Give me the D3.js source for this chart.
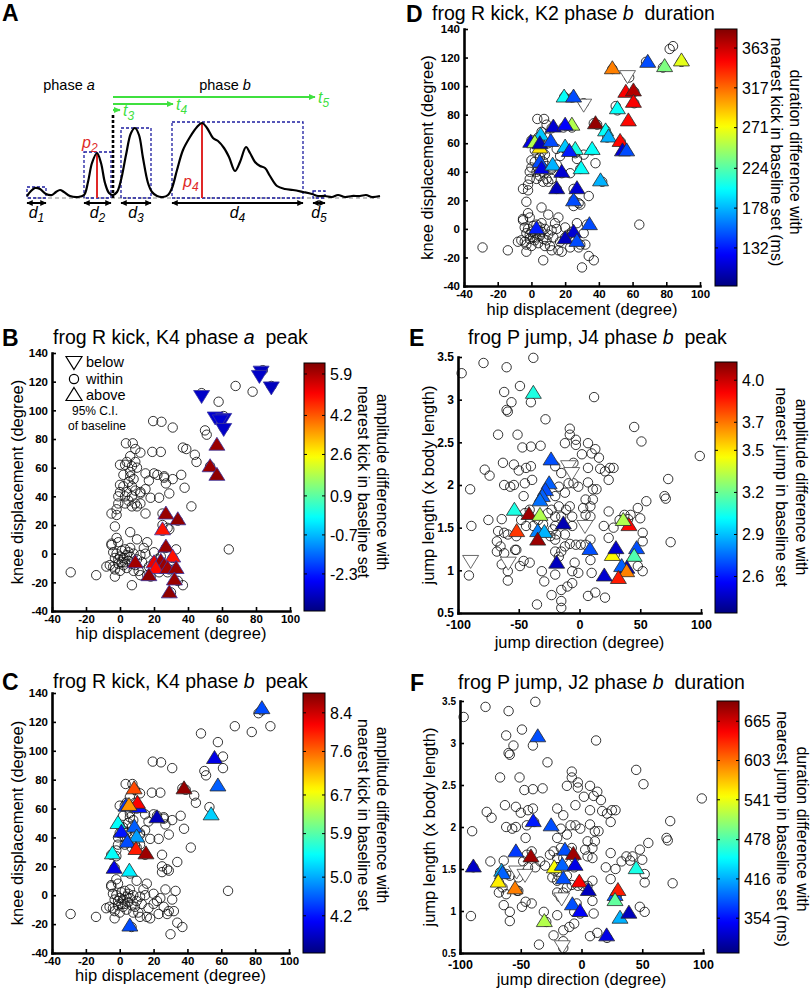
<!DOCTYPE html>
<html>
<head>
<meta charset="utf-8">
<script src="https://cdn.jsdelivr.net/npm/d3@7"></script>
<style>
body { margin: 0; background: #fff; }
svg { display: block; font-family: "Liberation Sans", Arial, sans-serif; }
</style>
</head>
<body>
<svg id="fig" width="810" height="988"></svg>
<script>
// ---- data ----
// schematic trace for panel A (time, amplitude in arbitrary units)
const traceA = [[0,2],[4,7],[8,10],[13,9],[19,4],[25,3],[29,6],[33,8],[37,6],[43,2],[51,1],[57,3],[61,16],[65,35],[70,45],[74,35],[78,15],[82,5],[86,3],[90,6],[94,18],[99,43],[104,65],[108,70],[112,63],[116,40],[121,15],[125,6],[130,2],[136,1],[141,3],[145,10],[150,28],[156,48],[163,61],[170,71],[175,75],[180,70],[186,60],[191,57],[197,50],[202,41],[208,27],[213,36],[219,51],[223,45],[228,36],[233,32],[238,30],[243,22],[250,12],[258,9],[266,8],[276,6],[285,4],[291,2],[298,2],[305,1],[311,3],[318,1],[325,2],[333,2],[339,3],[345,1],[353,2]];
// burst windows: start, end, top, index
const burstsA = [[0,19,11,'1'],[57,84,46,'2'],[94,124,70,'3'],[145,276,76,'4'],[286,298,7,'5']];
const peaksA = [[70,45,'2'],[175,75,'4']];
const onsetA = 86;
const latenciesA = [[93,88,'3'],[146,94,'4'],[288,101,'5']];

// all kicks: hip displacement, knee displacement (degree)
const kickTrials = [[68,117],[78,113],[89,117],[82,126],[84,128],[48,112],[58,106],[61,96],[61,88],[50,86],[51,83],[53,61],[44,69],[45,64],[37,74],[39,73],
[19.5,92.5],[24.4,92],[31,88],[19,71],[24,71],[31,52],[26,53],[27,49],[38,46],[36,55],[42,33],[29,42],[23,39],[18,39],[15,45],[17,51],[15,56],[20,56],[22,55],[12,35],[12,42],[15,28],[25,28],[28,18],[25,20],[34,23],[25,16],[29,17],[26,54],
[3.5,77],[7.5,77],[9,73],[12,70.5],[6,68],[4,64],[9,64],[0,62],[3,62],[7,61],[6,57],[10,60],[6,54],[0,48],[2,47],[7,47],[9,44],[4,43],[0,43],[-1,40],[3,40],[7,40],[12,43],[-1,35],[3,35],[9,35],[-5,28],[-2,27],[7,33],[10,33],[6,15],[-3,19],[-2,11],[-5,7],[-1,8],[5,50],[2,55],[8,52],[-2,31],[5,37],
[-2,0],[0,-2],[2,-3],[4,-1],[1,2],[3,3],[-1,-4],[5,-5],[6,-2],[8,0],[3,-6],[-3,-3],[7,-7],[10,-4],[2,-8],[-4,-9],[-6,-8],[-3,-11],[-3,-16],[0,-12],[4,-10],[9,-8],[11,-12],[13,-6],[12,-1],[14,4],[16,8],[10,10],[6,4],[-5,6],[-4,1],[-8,-9],[-14,-15],[-29,-13],[7,-22],[16,-15],[18,-16],[17,-9],[20,-6],[24,-2],[27,4],[31,-3],[33,3],[32,-11],[29,-11],[34,-19],[37,-22],[30,-27],[22,-4],[26,-8],[28,-13],[23,-13],[20,1],[64,3],[15,0],[12,-15],[1,-6],[5,1],[-1,-7],[8,-12]];

// all jumps: jump direction (degree), jump length (x body length)
const jumpTrials = [[-97,3.31],[-79,3.43],[-60,3.38],[-38,3.49],[-49,3.16],[-62,3.09],[-56,2.97],[-60,2.88],[-59,2.86],[-40,2.97],[-28,2.77],[12,3.03],[45,2.68],[51,2.51],[99,2.34],[-67,2.59],[-51,2.59],[-47,2.44],[-40,2.45],[-32,2.46],[-63,2.26],[-54,2.24],[-50,2.17],[-44,2.2],[-40,2.22],[-78,2.18],[-74,2.11],[-62,2.0],[-57,1.98],[-54,2.0],[-45,2.02],[-39,2.06],[-90,1.95],[-75,1.59],[-89,1.52],[-64,1.6],[-67,1.46],[-62,1.44],[-59,1.42],[-68,1.34],[-65,1.28],[-68,1.22],[-62,1.2],[-64,1.07],[-59,0.99],[-59,0.88],[-91,0.94],[-53,1.24],[-41,1.09],[-31,0.99],[-29,0.87],[-20,0.95],[-23,0.71],[-35,0.6],[-15,0.64],[-15,0.56],[-6,0.85],[-10,0.81],[-15,0.77],[7,0.7],[13,0.74],[21,0.68],[10,0.97],[-1,0.97],[-6,0.99],[-4,1.09],[-17,1.16],[-20,1.22],[-15,1.22],[-12,1.28],[-8,1.31],[-3,1.3],[1,1.3],[5,1.3],[9,1.36],[9,1.12],[24,1.38],[20,1.52],[24,1.69],[28,1.5],[33,1.59],[37,1.65],[40,1.6],[42,1.65],[52,1.44],[52,1.34],[50,1.61],[48,1.73],[55,1.81],[70,1.87],[71,1.84],[73,2.07],[75,1.33],[52,0.99],[48,1.05],[29,1.18],
[7,2.2],[7,2.49],[10,2.37],[16,2.32],[13,2.42],[-8,2.66],[-8,2.59],[-3,2.53],[2,2.36],[-5,2.26],[-3,2.47],[-12,2.49],[-20,2.22],[-15,2.14],[-17,1.98],[-9,2.02],[-12,1.91],[-5,2.02],[-1,1.98],[-8,1.75],[-6,1.63],[3,1.73],[9,1.75],[5,1.83],[11,1.95],[14,1.95],[11,1.83],[5,1.65],[9,1.63],[25,2.2],[28,2.2],[21,2.16],[17,2.19],[7,2.03],[24,2.06],[-15,1.63],[-17,1.75],[-20,1.63],[-11,1.71],[-6,1.52],[-20,1.52],[-24,1.4],[-19,1.42],[-12,1.42],[-20,1.36],[-22,1.48],[-34,1.59],[-30,1.54],[-26,1.67],[-23,1.71],[-46,1.87],[-45,1.67],[-41,1.71],[-38,1.52],[-44,1.52],[-48,1.59],[-52,1.4],[-52,1.24],[-46,1.11],[-49,1.05],[-20,1.87]];

// outliers: x, y, colour value (null = white), 1 above / -1 below
const kickK4PeakA = [[83,127,-3.2,-1],[82,124,-3.1,-1],[89,116,-3.2,-1],[48,110,-3.1,-1],[56,95,-3.0,-1],[61,94,-3.1,-1],[59,93,-3.0,-1],[61,87,-3.1,-1],
[57,76,6.1,1],[53,61,6.1,1],[57,55,6.2,1],[27,28,6.1,1],[34,24,6.2,1],[25,17,4.9,1],[27,5,6.1,1],[9,-6,6.0,1],[20,-6,5.3,1],[24,-5,6.1,1],[31,-2,4.9,1],[26,-8,6.1,1],[21,-10,5.0,1],[28,-10,6.0,1],[33,-10,6.1,1],[17,-15,6.2,1],[32,-18,6.1,1],[29,-27,6.2,1]];
const kickK4PeakB = [[84,129.5,4.5,1],[56,95,3.97,1],[58,76,4.6,1],[54,56,5.2,1],[38,74,8.7,1],[3.7,62,4.4,1],[11.6,61,4.2,1],[10.5,64,8.16,1],[8.5,74,7.75,1],[5.5,62.5,7.36,1],[22,54,3.75,1],[-1,50,5.47,1],[1,44,4.2,1],[8.7,47.5,4.6,1],[10,40.6,4.94,1],[4.5,37,4.5,1],[9.6,32,8.0,1],[15.5,29,8.65,1],[-4.3,29,5.47,1],[-3.3,19,3.97,1],[5.7,17,5.37,1],[6,-21,4.5,1]];
const kickK2DurationB = [[57,107,null,-1],[31,87,null,-1],[69,117,147,1],[79,114,236,1],[89,118,266,1],[48,112.5,311,1],[56,96,349,1],[60.5,97,370,1],[60.5,89,349,1],[51,84.5,201,1],[57.5,76,346,1],[38,74,379,1],[19.4,92.7,201,1],[25,92.7,147,1],[24,73,251,1],[13,71.7,112,1],[20,73,124,1],[5.5,66,183,1],[-0.4,61,118,1],[2,60.7,251,1],[5,57,281,1],[5,60,103,1],[11.5,61.6,147,1],[44,69,201,1],[45.7,64.7,177,1],[52.6,61.6,346,1],[54,55,112,1],[56.5,55,147,1],[20,57.7,183,1],[26,56,207,1],[22.5,54.6,133,1],[36,56,201,1],[5,47,147,1],[6,42.5,118,1],[12.6,45,177,1],[18,40,112,1],[29.5,42.5,201,1],[41,34,177,1],[15,28.5,106,1],[27,28.5,112,1],[25,20,147,1],[3,0.5,133,1],[34.4,3.3,147,1],[25,-2,112,1],[20,-6.5,106,1],[27,-8.4,147,1]];
const jumpJ4PeakB = [[4.5,1.52,null,-1],[-9,2.22,null,-1],[-6.4,2.14,null,-1],[-89.6,1.11,null,-1],[-58.6,1.09,null,-1],[-38,3.08,3.06,1],[-23.4,2.3,2.70,1],[-25,2.02,2.73,1],[-28,1.94,2.70,1],[-30.6,1.87,2.73,1],[-32.5,1.82,2.76,1],[-53.6,1.71,3.06,1],[-41.6,1.66,4.08,1],[-32.5,1.65,3.32,1],[-51.7,1.46,3.81,1],[-34.4,1.46,2.79,1],[-28.9,1.45,2.88,1],[-34.4,1.36,4.08,1],[-13.3,1.55,2.43,1],[-18.8,1.09,2.45,1],[8.6,1.25,2.70,1],[27,1.18,3.47,1],[30,1.26,2.47,1],[47,1.26,2.70,1],[45,1.17,3.15,1],[40.7,1.53,3.90,1],[36,1.59,3.32,1],[39,1.03,2.45,1],[34.7,1.05,2.73,1],[38.8,0.99,3.68,1],[32,0.91,3.86,1],[20.4,0.94,2.48,1]];
const jumpJ2DurationB = [[-15.8,0.58,null,-1],[-53.4,1.47,null,-1],[-46.5,1.43,null,-1],[-16.3,1.15,null,-1],[-36,3.08,379,1],[-39.7,2.07,359,1],[-25,2.02,379,1],[-89,1.53,327,1],[-54,1.71,371,1],[-41.6,1.65,685,1],[-13.6,1.73,379,1],[-6.7,1.68,685,1],[-22.4,1.52,546,1],[-15.8,1.55,387,1],[-5.3,1.55,339,1],[-65.7,1.48,418,1],[-65,1.45,387,1],[-68.5,1.35,554,1],[-54.7,1.27,598,1],[-15,1.39,379,1],[-1.8,1.35,649,1],[5.6,1.25,323,1],[45,1.51,458,1],[27.6,1.19,379,1],[30,1.25,637,1],[27.6,1.13,486,1],[-7.5,1.08,379,1],[-1.2,1.0,347,1],[31.7,0.92,418,1],[39,0.98,323,1],[-30.6,0.88,518,1],[20.7,0.71,339,1]];

// colour bar ranges and tick labels
const cbDomainB = [-3.82, 6.35], cbTicksB = [-2.3, -0.7, 0.9, 2.6, 4.2, 5.9];
const cbDomainC = [3.43, 8.81],  cbTicksC = [4.2, 5.0, 5.9, 6.7, 7.6, 8.4];
const cbDomainD = [88, 385],     cbTicksD = [132, 178, 224, 271, 317, 363];
const cbDomainE = [2.34, 4.13],  cbTicksE = [2.6, 2.9, 3.2, 3.5, 3.7, 4.0];
const cbDomainF = [299, 697],    cbTicksF = [354, 416, 478, 541, 603, 665];

const kickXTicks = d3.range(-40, 101, 20), kickYTicks = d3.range(-40, 141, 20);
const jumpXTicks = [-100, -50, 0, 50, 100], jumpYTicks = [0.5, 1, 1.5, 2, 2.5, 3, 3.5];

// ---- drawing ----
const fig = d3.select('#fig');
const defs = fig.append('defs');

function jet(t) {
  t = Math.max(0, Math.min(1, t));
  const c = v => Math.round(255 * Math.max(0, Math.min(1, v)));
  return `rgb(${c(1.5 - Math.abs(4*t - 3))},${c(1.5 - Math.abs(4*t - 2))},${c(1.5 - Math.abs(4*t - 1))})`;
}

const grad = defs.append('linearGradient').attr('id', 'jet')
  .attr('x1', 0).attr('y1', 1).attr('x2', 0).attr('y2', 0);
d3.range(0, 1.0001, 0.02).forEach(t => grad.append('stop').attr('offset', t).attr('stop-color', jet(t)));

function addMarker(id, color) {
  defs.append('marker').attr('id', id).attr('viewBox', '0 0 10 10')
    .attr('refX', 9).attr('refY', 5).attr('markerWidth', 3.2).attr('markerHeight', 3.2)
    .attr('orient', 'auto-start-reverse')
    .append('path').attr('d', 'M0,0.5 L10,5 L0,9.5 z').attr('fill', color);
}
addMarker('arrK', '#000');
addMarker('arrG', '#3fe03f');

const triUp = 'M0,-7.5 L8,5.5 L-8,5.5 Z';
const triDown = 'M0,7.5 L8,-5.5 L-8,-5.5 Z';

function richText(g, x, y, parts) {
  const t = g.append('text').attr('x', x).attr('y', y).style('white-space', 'pre');
  parts.forEach(([s, it]) => t.append('tspan').text(s).attr('font-style', it ? 'italic' : null));
  return t;
}

function styleAxis(sel, fs) {
  sel.attr('font-family', null).attr('font-size', null);
  sel.select('.domain').attr('stroke', '#000').attr('stroke-width', 2.6).attr('stroke-linecap', 'square');
  sel.selectAll('.tick line').attr('stroke', '#000').attr('stroke-width', 1.6);
  sel.selectAll('.tick text').attr('fill', '#000').attr('font-size', fs).attr('font-weight', 'bold');
}

function scatter(p) {
  const g = fig.append('g');
  const [px0, px1, py0, py1] = p.box;
  const x = d3.scaleLinear().domain(p.xDomain).range([px0, px1]);
  const y = d3.scaleLinear().domain(p.yDomain).range([py1, py0]);
  const cScale = d3.scaleLinear().domain(p.cbDomain).range([0, 1]);

  g.append('g').selectAll('circle').data(p.points).join('circle')
    .attr('cx', d => x(d[0])).attr('cy', d => y(d[1])).attr('r', 4.7)
    .attr('fill', 'none').attr('stroke', '#111').attr('stroke-width', 0.85);

  g.append('g').selectAll('path').data(p.tris).join('path')
    .attr('transform', d => `translate(${x(d[0])},${y(d[1])})`)
    .attr('d', d => d[3] > 0 ? triUp : triDown)
    .attr('fill', d => d[2] === null ? '#fff' : jet(cScale(d[2])))
    .attr('stroke', d => d[2] === null ? '#444' : p.triStroke)
    .attr('stroke-width', 0.8);

  const xa = g.append('g').attr('transform', `translate(0,${py1})`)
    .call(d3.axisBottom(x).tickValues(p.xTicks).tickSizeInner(-4).tickSizeOuter(0).tickPadding(p.xTickPad).tickFormat(d => d));
  styleAxis(xa, p.xTickFont);
  const ya = g.append('g').attr('transform', `translate(${px0},0)`)
    .call(d3.axisLeft(y).tickValues(p.yTicks).tickSizeInner(-4).tickSizeOuter(0).tickPadding(4).tickFormat(d => d));
  styleAxis(ya, p.yTickFont);

  // colour bar
  const [cx0, cx1, cy0, cy1] = p.cbBox;
  const cb = d3.scaleLinear().domain(p.cbDomain).range([cy1, cy0]);
  g.append('rect').attr('x', cx0).attr('y', cy0).attr('width', cx1 - cx0).attr('height', cy1 - cy0)
    .attr('fill', 'url(#jet)').attr('stroke', '#000').attr('stroke-width', 1);
  const cbt = g.append('g').selectAll('g').data(p.cbTicks).join('g')
    .attr('transform', d => `translate(0,${cb(d)})`);
  cbt.append('line').attr('x1', cx1 - 3).attr('x2', cx1).attr('stroke', '#000');
  cbt.append('line').attr('x1', cx0).attr('x2', cx0 + 3).attr('stroke', '#000');
  cbt.append('text').attr('x', cx1 + 5).attr('dy', '0.36em').attr('font-size', 16)
    .text(d => d.toFixed(p.cbDigits));
  p.cbLabel.forEach((s, i) => {
    g.append('text').attr('transform', `translate(${p.cbLabelX[i]},${p.cbLabelY}) rotate(90)`)
      .attr('text-anchor', 'middle').attr('font-size', 16).text(s);
  });

  // titles and labels
  richText(g, p.titlePos[0], p.titlePos[1], p.title).attr('font-size', 19.5);
  g.append('text').attr('x', p.letterPos[0]).attr('y', p.letterPos[1])
    .attr('font-size', 23).attr('font-weight', 'bold').text(p.letter);
  g.append('text').attr('transform', `translate(${p.yLabelX},${(py0 + py1) / 2}) rotate(-90)`)
    .attr('text-anchor', 'middle').attr('font-size', 16.5).text(p.yLabel);
  g.append('text').attr('x', (px0 + px1) / 2).attr('y', p.xLabelY)
    .attr('text-anchor', 'middle').attr('font-size', 16.5).text(p.xLabel);
  return g;
}

// ---- panel A ----
(function () {
  const g = fig.append('g');
  const x = d3.scaleLinear().domain([0, 353]).range([27, 380]);
  const y = d3.scaleLinear().domain([0, 80]).range([198, 118]);

  g.append('text').attr('x', 2).attr('y', 21).attr('font-size', 23).attr('font-weight', 'bold').text('A');
  g.append('line').attr('x1', x(0)).attr('x2', x(353)).attr('y1', y(0)).attr('y2', y(0))
    .attr('stroke', '#888').attr('stroke-width', 1.2).attr('stroke-dasharray', '4,3');

  g.selectAll('rect.burst').data(burstsA).join('rect').attr('class', 'burst')
    .attr('x', d => x(d[0])).attr('y', d => y(d[2])).attr('width', d => x(d[1]) - x(d[0])).attr('height', d => y(0) - y(d[2]))
    .attr('fill', 'none').attr('stroke', '#1c1ca0').attr('stroke-width', 1.3).attr('stroke-dasharray', '3,2');

  g.selectAll('line.peak').data(peaksA).join('line').attr('class', 'peak')
    .attr('x1', d => x(d[0])).attr('x2', d => x(d[0])).attr('y1', y(0)).attr('y2', d => y(d[1]))
    .attr('stroke', '#e02828').attr('stroke-width', 2);

  g.append('path').datum(traceA)
    .attr('d', d3.line().x(d => x(d[0])).y(d => y(d[1])).curve(d3.curveCatmullRom))
    .attr('fill', 'none').attr('stroke', '#000').attr('stroke-width', 2.2).attr('stroke-linejoin', 'round');

  g.append('line').attr('x1', x(onsetA)).attr('x2', x(onsetA)).attr('y1', y(0)).attr('y2', y(83))
    .attr('stroke', '#000').attr('stroke-width', 2.6).attr('stroke-dasharray', '3,2');

  latenciesA.forEach(d => {
    g.append('line').attr('x1', x(onsetA)).attr('x2', x(d[0])).attr('y1', y(d[1])).attr('y2', y(d[1]))
      .attr('stroke', '#3fe03f').attr('stroke-width', 2.2).attr('marker-end', 'url(#arrG)');
    const t = g.append('text').attr('x', x(d[0]) + 3).attr('y', y(d[1]) + 6)
      .attr('fill', '#3fe03f').attr('font-size', 16).attr('font-style', 'italic');
    t.append('tspan').text('t');
    t.append('tspan').attr('dy', 4).attr('font-size', 12).text(d[2]);
  });

  burstsA.forEach(d => {
    g.append('line').attr('x1', x(d[0])).attr('x2', x(d[1])).attr('y1', y(-5)).attr('y2', y(-5))
      .attr('stroke', '#000').attr('stroke-width', 2)
      .attr('marker-start', 'url(#arrK)').attr('marker-end', 'url(#arrK)');
    const t = g.append('text').attr('x', x((d[0] + d[1]) / 2)).attr('y', y(-20))
      .attr('text-anchor', 'middle').attr('font-size', 16).attr('font-style', 'italic');
    t.append('tspan').text('d');
    t.append('tspan').attr('dy', 4).attr('font-size', 12).text(d[3]);
  });

  [[55, 50, '2'], [156, 11, '4']].forEach(d => {
    const t = g.append('text').attr('x', x(d[0])).attr('y', y(d[1]))
      .attr('fill', '#e02828').attr('font-size', 16).attr('font-style', 'italic');
    t.append('tspan').text('p');
    t.append('tspan').attr('dy', 4).attr('font-size', 12).text(d[2]);
  });

  richText(g, x(42), y(108), [['phase ', false], ['a', true]]).attr('font-size', 14.5).attr('text-anchor', 'middle');
  richText(g, x(198), y(108), [['phase ', false], ['b', true]]).attr('font-size', 14.5).attr('text-anchor', 'middle');
})();

// ---- panels B-F ----
const kickCommon = {
  xDomain: [-40, 100], yDomain: [-40, 140], xTicks: kickXTicks, yTicks: kickYTicks,
  points: kickTrials, xTickFont: 11.5, yTickFont: 11.5, xTickPad: 4,
  xLabel: 'hip displacement (degree)', yLabel: 'knee displacement (degree)', triStroke: '#2a2a2a'
};
const jumpCommon = {
  xDomain: [-100, 100], yDomain: [0.5, 3.5], xTicks: jumpXTicks, yTicks: jumpYTicks,
  points: jumpTrials, xTickFont: 12.5, yTickFont: 12, xTickPad: 7,
  xLabel: 'jump direction (degree)', yLabel: 'jump length (x body length)', triStroke: '#2a2a2a'
};

const pB = scatter(Object.assign({}, kickCommon, {
  box: [52, 290, 353, 611], tris: kickK4PeakA, triStroke: '#3a36a0',
  cbBox: [304, 325, 363, 611], cbDomain: cbDomainB, cbTicks: cbTicksB, cbDigits: 1,
  cbLabel: ['amplitude difference with', 'nearest kick in baseline set'], cbLabelX: [377, 358], cbLabelY: 482,
  title: [['frog R kick, K4 phase ', false], ['a', true], ['  peak', false]], titlePos: [53, 344],
  letter: 'B', letterPos: [2, 346], yLabelX: 23, xLabelY: 639
}));

// legend in B
const leg = pB.append('g');
leg.append('path').attr('transform', 'translate(74,362)').attr('d', triDown).attr('fill', '#fff').attr('stroke', '#000').attr('stroke-width', 1.2);
leg.append('circle').attr('cx', 74).attr('cy', 379).attr('r', 4.6).attr('fill', 'none').attr('stroke', '#000').attr('stroke-width', 1.2);
leg.append('path').attr('transform', 'translate(74,395)').attr('d', triUp).attr('fill', '#fff').attr('stroke', '#000').attr('stroke-width', 1.2);
[['below', 367], ['within', 384], ['above', 400]].forEach(d =>
  leg.append('text').attr('x', 86).attr('y', d[1]).attr('font-size', 14.5).text(d[0]));
leg.append('text').attr('x', 95).attr('y', 415).attr('text-anchor', 'middle').attr('font-size', 12).text('95% C.I.');
leg.append('text').attr('x', 97).attr('y', 430).attr('text-anchor', 'middle').attr('font-size', 12).text('of baseline');

scatter(Object.assign({}, kickCommon, {
  box: [52, 289, 693, 953], tris: kickK4PeakB,
  cbBox: [303, 325, 693, 953], cbDomain: cbDomainC, cbTicks: cbTicksC, cbDigits: 1,
  cbLabel: ['amplitude difference with', 'nearest kick in baseline set'], cbLabelX: [377, 358], cbLabelY: 815,
  title: [['frog R kick, K4 phase ', false], ['b', true], ['  peak', false]], titlePos: [53, 688],
  letter: 'C', letterPos: [2, 690], yLabelX: 23, xLabelY: 981
}));

scatter(Object.assign({}, kickCommon, {
  box: [464, 700, 29, 286], tris: kickK2DurationB,
  cbBox: [715, 737, 29, 286], cbDomain: cbDomainD, cbTicks: cbTicksD, cbDigits: 0,
  cbLabel: ['duration difference with', 'nearest kick in baseline set (ms)'], cbLabelX: [790, 771], cbLabelY: 152,
  title: [['frog R kick, K2 phase ', false], ['b', true], ['  duration', false]], titlePos: [432, 20],
  letter: 'D', letterPos: [406, 22], yLabelX: 433, xLabelY: 315
}));

scatter(Object.assign({}, jumpCommon, {
  box: [458, 701, 357, 613], tris: jumpJ4PeakB,
  cbBox: [715, 737, 362, 613], cbDomain: cbDomainE, cbTicks: cbTicksE, cbDigits: 1,
  cbLabel: ['amplitude difference with', 'nearest jump in baseline set'], cbLabelX: [796, 776], cbLabelY: 487,
  title: [['frog P jump, J4 phase ', false], ['b', true], ['  peak', false]], titlePos: [468, 344],
  letter: 'E', letterPos: [409, 346], yLabelX: 434, xLabelY: 648
}));

scatter(Object.assign({}, jumpCommon, {
  box: [460, 703, 701, 953], tris: jumpJ2DurationB, yTickFont: 10,
  cbBox: [717, 739, 701, 953], cbDomain: cbDomainF, cbTicks: cbTicksF, cbDigits: 0,
  cbLabel: ['duration difference with', 'nearest jump in baseline set (ms)'], cbLabelX: [797, 777], cbLabelY: 829,
  title: [['frog P jump, J2 phase ', false], ['b', true], ['  duration', false]], titlePos: [458, 689],
  letter: 'F', letterPos: [410, 691], yLabelX: 435, xLabelY: 985
}));
</script>
</body>
</html>
